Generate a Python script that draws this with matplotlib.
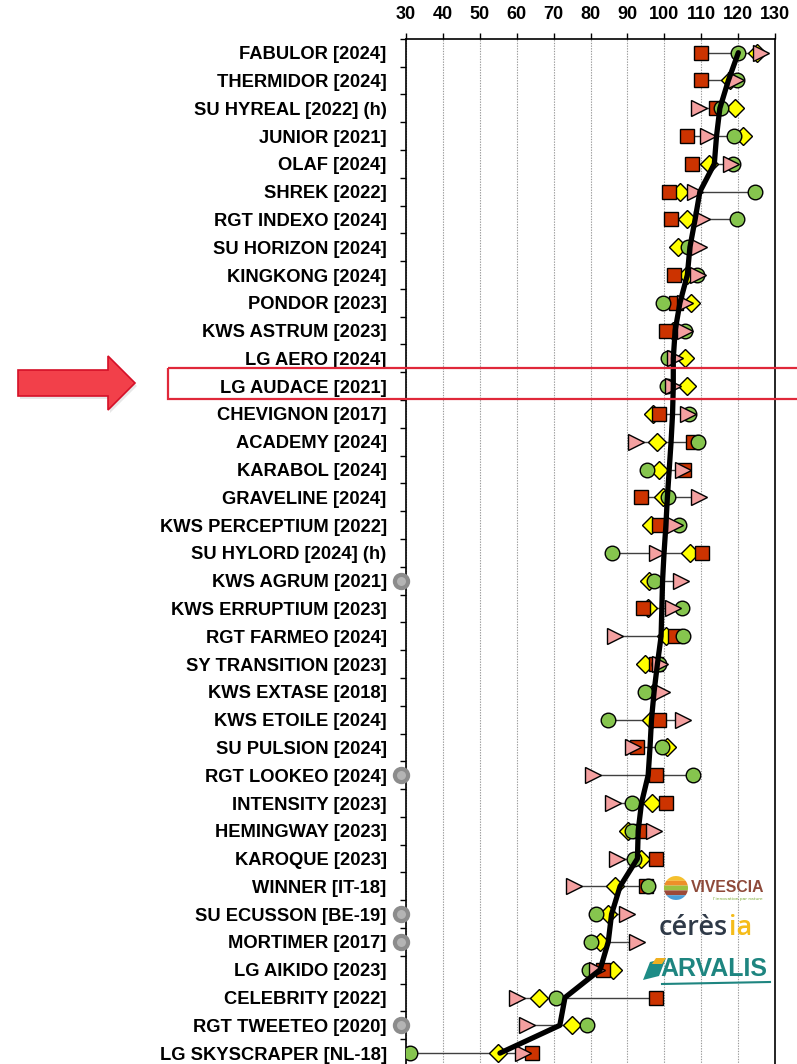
import numpy as np
import matplotlib.pyplot as plt
from matplotlib.patches import Polygon, Rectangle

# Variétés (de haut en bas)
varietes = ["FABULOR [2024]", "THERMIDOR [2024]", "SU HYREAL [2022] (h)", "JUNIOR [2021]",
            "OLAF [2024]", "SHREK [2022]", "RGT INDEXO [2024]", "SU HORIZON [2024]",
            "KINGKONG [2024]", "PONDOR [2023]", "KWS ASTRUM [2023]", "LG AERO [2024]",
            "LG AUDACE [2021]", "CHEVIGNON [2017]", "ACADEMY [2024]", "KARABOL [2024]",
            "GRAVELINE [2024]", "KWS PERCEPTIUM [2022]", "SU HYLORD [2024] (h)",
            "KWS AGRUM [2021]", "KWS ERRUPTIUM [2023]", "RGT FARMEO [2024]",
            "SY TRANSITION [2023]", "KWS EXTASE [2018]", "KWS ETOILE [2024]",
            "SU PULSION [2024]", "RGT LOOKEO [2024]", "INTENSITY [2023]",
            "HEMINGWAY [2023]", "KAROQUE [2023]", "WINNER [IT-18]", "SU ECUSSON [BE-19]",
            "MORTIMER [2017]", "LG AIKIDO [2023]", "CELEBRITY [2022]",
            "RGT TWEETEO [2020]", "LG SKYSCRAPER [NL-18]"]

n = np.nan
carre = [110, 110, 114, 106, 107.4, 101.3, 101.8, n, 102.7, 103.1, 100.4, n, n, 98.4,
         107.6, 105.3, 93.6, 98.4, 110.1, n, 94.3, 102.9, 97.7, n, 98.6, 92.5, 97.7,
         100.3, 93.4, 97.7, 95, n, n, 83.3, 97.6, n, 64.1]
rond = [120, 119.7, 115.4, 118.8, 118.6, 124.5, 119.7, 106.5, 108.7, 99.7, 105.6, 101.1,
        100.6, 106.7, 109.2, 95.2, 101.1, 104, 85.9, 97.2, 104.8, 105.1, 98.6, 94.7, 84.6,
        99.3, 107.6, 91.3, 91.1, 91.8, 95.6, 81.5, 80, 79.7, 70.6, 79, 31.2]
losange = [125, 117.7, 119.2, 121.3, 112.1, 104.2, 106, 103.6, 106.2, 107.1, 102.4, 105.6,
           106, 97, 97.9, 98.4, 99.5, 96.5, 106.9, 95.9, 95.6, 100.4, 94.7, 97.2, 96.5,
           100.6, n, 96.7, 90.2, 93.6, 86.6, 84.8, 82.6, 86.2, 66.2, 74.9, 55.1]
triangle = [126, 119.3, 109.4, 111.9, 117.9, 108.3, 110.3, 109.4, 109.2, 105.6, 105.6,
            102.9, 102.4, 106.5, 92.3, 105.1, 109.4, 102.9, 97.9, 104.4, 102.4, 86.6,
            98.8, 99.3, 105.1, 91.6, 80.6, 86, 97.2, 87.1, 75.6, 89.8, 92.5, 81.7, 60,
            62.7, 61.7]
moyenne = [120, 117.3, 115, 114.1, 113.5, 109.6, 108.3, 106.9, 106.2, 104.2, 102.9, 102.4,
           102.4, 102.2, 101.8, 101.3, 100.8, 100.4, 99.9, 99.5, 99.3, 99.1, 98.1, 97.2,
           96.5, 96.1, 95.6, 93.8, 92.9, 92.7, 88, 85.7, 84.8, 82.6, 73.1, 71.7, 55.5]
# variétés marquées d'une pastille grise
pastille = ["KWS AGRUM [2021]", "RGT LOOKEO [2024]", "SU ECUSSON [BE-19]",
            "MORTIMER [2017]", "RGT TWEETEO [2020]"]
graduations = list(range(30, 140, 10))

W, H = 797, 1064
fig = plt.figure(figsize=(W / 100, H / 100), dpi=100)
ax = fig.add_axes([405.7 / W, 1 - 1067 / H, 369.6 / W, 1028.2 / H])

y = np.arange(len(varietes))
series = np.array([carre, rond, losange, triangle], dtype=float)

# traits fins min -> max
lo = np.nanmin(series, axis=0)
hi = np.nanmax(series, axis=0)
ax.hlines(y, lo, hi, color="#404040", lw=1.0, zorder=2)

kw = dict(ls="none", mec="black", mew=1.0)
ax.plot(losange, y, marker="D", ms=9.5, mfc="#FFFF00", zorder=3, **kw)
ax.plot(carre, y, marker="s", ms=10, mfc="#CC3300", zorder=4, **kw)
ax.plot(rond, y, marker="o", ms=10.5, mfc="#86C54E", zorder=5, **kw)
ax.plot(triangle, y, marker=">", ms=11.5, mfc="#F4A0A0", zorder=6, **kw)

ax.plot(moyenne, y, color="black", lw=3.8, solid_joinstyle="round",
        solid_capstyle="round", zorder=7)

for nom in pastille:
    i = varietes.index(nom)
    ax.plot([28.65], [i], marker="o", ms=9.5, mfc="#B4B4B4", mec="#8C8C8C", mew=3,
            clip_on=False, zorder=8)

ax.set_xlim(30, 130)
ax.set_ylim(len(varietes) - 0.5, -0.5)
ax.set_xticks(graduations)
ax.xaxis.tick_top()
ax.tick_params(axis="x", top=True, bottom=False, direction="out", length=4.3,
               width=1, pad=7, labelsize=13)
for lab in ax.get_xticklabels():
    lab.set_fontweight("bold")
    lab.set_family("Liberation Sans")
ax.set_yticks(y)
ax.set_yticklabels(varietes, fontsize=13.2, fontweight="bold", family="Liberation Sans")
ax.set_yticks(np.arange(-0.5, len(varietes), 1), minor=True)
ax.tick_params(axis="y", which="major", length=0, pad=13.7)
ax.tick_params(axis="y", which="minor", length=4.3, width=1, direction="out")
ax.grid(axis="x", color="#9A9A9A", ls=(0, (1.2, 1.2)), lw=0.8)
ax.set_axisbelow(True)
for s in ax.spines.values():
    s.set_linewidth(1.2)

# calque en pixels pour la flèche, le cadre et les logos
ov = fig.add_axes([0, 0, 1, 1], facecolor="none")
ov.set_xlim(0, W)
ov.set_ylim(H, 0)
ov.axis("off")

fleche = [(18, 370), (108, 370), (108, 356), (135, 383), (108, 410), (108, 396), (18, 396)]
ov.add_patch(Polygon([(x + 2, y_ + 3) for x, y_ in fleche], closed=True,
                     fc="#D8D8D8", ec="none", alpha=0.6))
ov.add_patch(Polygon(fleche, closed=True, fc="#F2404A", ec="#D51028", lw=1.2))
ov.add_patch(Rectangle((168, 368), 640, 31, fill=False, ec="#E0283A", lw=1.6))

# logos
cx, cy, r = 676, 888, 12
for k, col in enumerate(["#F5C02E", "#EE8F2A", "#9DC13F", "#9C4A3A", "#4A9ED8"]):
    h = 2 * r / 5
    yy = cy - r + k * h
    ys = np.linspace(yy, yy + h, 20)
    half = np.sqrt(np.clip(r ** 2 - (ys - cy) ** 2, 0, None))
    pts = list(zip(cx - half, ys)) + list(zip(cx + half[::-1], ys[::-1]))
    ov.add_patch(Polygon(pts, closed=True, fc=col, ec="none"))
ov.text(691, 888, "VIVESCIA", color="#8E4A3A", fontsize=11.3, fontweight="bold",
        family="Liberation Sans", va="center", ha="left")
ov.text(763, 899, "l'innovation par nature", color="#7FAE3A", fontsize=3.2,
        va="center", ha="right")

t1 = ov.text(659, 928, "cérès", color="#2F3A48", fontsize=19.5, fontweight="semibold",
             family="Open Sans", va="center", ha="left")
ov.annotate("ia", xy=(1, 0.5), xycoords=t1, xytext=(0.5, 0), textcoords="offset points",
            color="#F5BC1A", fontsize=19.5, fontweight="semibold", family="Open Sans",
            va="center", ha="left")

ov.add_patch(Polygon([(643, 980), (650, 962), (666, 958), (659, 976)], closed=True,
                     fc="#1E8C86", ec="none"))
ov.add_patch(Polygon([(652, 964), (656, 958), (666, 958), (662, 964)], closed=True,
                     fc="#F0B020", ec="none"))
ov.text(660, 969, "ARVALIS", color="#1E8580", fontsize=18, fontweight="bold",
        family="Liberation Sans", va="center", ha="left")
ov.plot([662, 770], [984, 982], color="#1E8580", lw=1.5)

fig.savefig("out.png", dpi=100)
